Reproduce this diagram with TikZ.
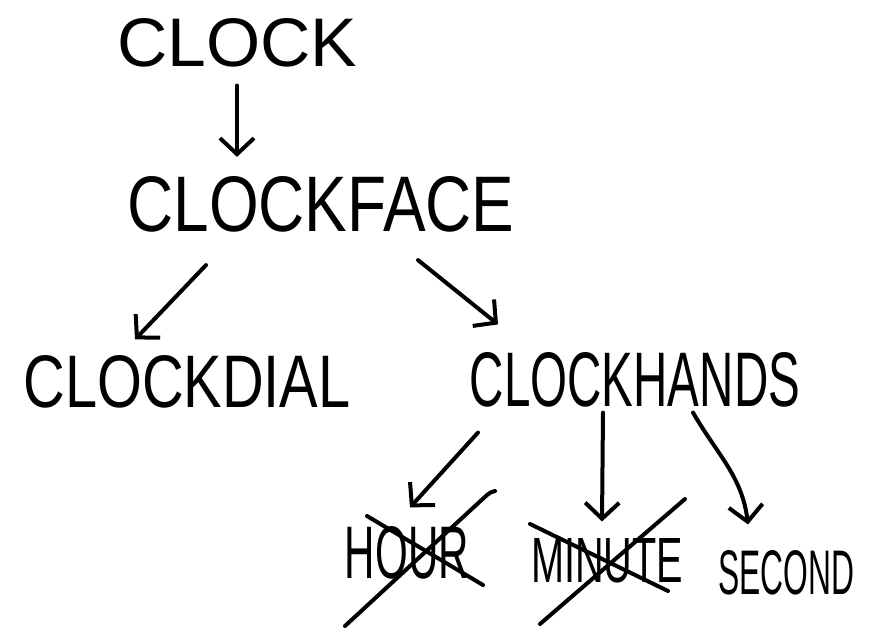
\documentclass[tikz,border=0pt]{standalone}
\usepackage{fontspec}
\setmainfont{Liberation Sans}
\usetikzlibrary{arrows.meta}
\tikzset{
  word/.style={inner sep=0pt, anchor=center},
  conn/.style={line width=4pt, line cap=round, line join=round,
    -{Straight Barb[length=16pt,width=34pt,line width=4pt]}},
  strike/.style={line width=4pt, line cap=round}
}
\newcommand{\wbox}[3]{\resizebox{#1pt}{#2pt}{#3}}
\begin{document}
\begin{tikzpicture}[x=1pt,y=-1pt]
\useasboundingbox (0,0) rectangle (871,628);
\node[word] (clock) at (237,43) {\wbox{240}{48}{CLOCK}};
\node[word] (clockface) at (321,204) {\wbox{387}{55}{CLOCKFACE}};
\node[word] (clockdial) at (187,382) {\wbox{327}{52}{CLOCKDIAL}};
\node[word] (clockhands) at (635,380) {\wbox{330}{54}{CLOCKHANDS}};
\node[word] (hour) at (407,553) {\wbox{124}{52}{HOUR}};
\node[word] (minute) at (607,561) {\wbox{152}{44}{MINUTE}};
\node[word] (second) at (786,573) {\wbox{136}{44}{SECOND}};

\draw[conn] ([shift={(0,18)}]clock.south) -- ([shift={(-84,-19)}]clockface.north);
\draw[conn] ([shift={(-115,33)}]clockface.south) -- ([shift={(-52,-16)}]clockdial.north);
\draw[conn] ([shift={(97,28)}]clockface.south) -- ([shift={(-137,-28)}]clockhands.north);
\draw[conn] ([shift={(-157,25)}]clockhands.south) -- ([shift={(3,-19)}]hour.north);
\draw[conn] ([shift={(-32,5)}]clockhands.south) -- ([shift={(-5,-17)}]minute.north);
\draw[conn] ([shift={(58,5)}]clockhands.south) to[out=-60,in=97] ([shift={(-38,-26)}]second.north);

\draw[strike] ([shift={(-62,73)}]hour.center) -- ([shift={(80,-58)}]hour.center)
  to[out=30,in=180] ([shift={(88,-62)}]hour.center);
\draw[strike] ([shift={(-40,-37)}]hour.center) -- ([shift={(76,32)}]hour.center);
\draw[strike] ([shift={(-67,63)}]minute.center) -- ([shift={(78,-62)}]minute.center);
\draw[strike] ([shift={(-77,-37)}]minute.center) -- ([shift={(61,30)}]minute.center);
\end{tikzpicture}
\end{document}
